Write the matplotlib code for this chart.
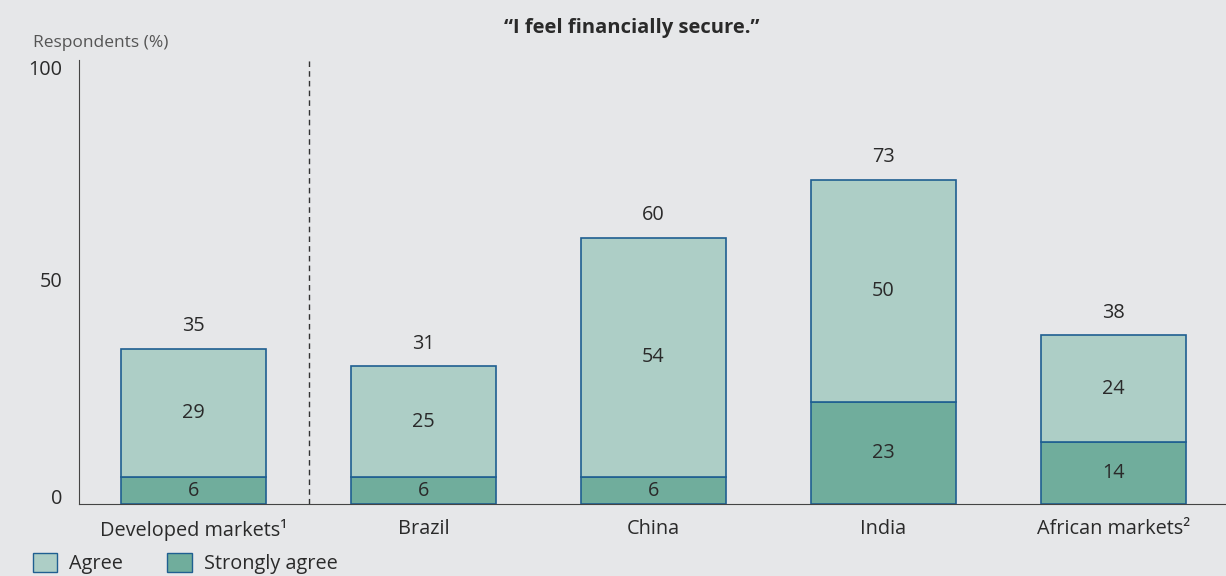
import matplotlib.pyplot as plt
from matplotlib.patches import Patch

plt.rcParams['font.family'] = ['Open Sans', 'DejaVu Sans']

categories = ['Developed markets¹', 'Brazil', 'China', 'India', 'African markets²']
strongly_agree = [6, 6, 6, 23, 14]
agree = [29, 25, 54, 50, 24]
totals = [35, 31, 60, 73, 38]
yticks = [0, 50, 100]

bg = '#e6e7e9'
c_agree = '#adcec6'
c_strong = '#70ad9c'
c_edge = '#1f5f91'
c_text = '#2a2a2a'
fs = 14.3

fig = plt.figure(figsize=(12.26, 5.76), dpi=100, facecolor=bg)
ax = fig.add_axes([0.0644, 0.125, 0.9356, 0.771])
ax.set_facecolor(bg)

x = range(len(categories))
w = 0.627
ax.bar(x, strongly_agree, width=w, color=c_strong, edgecolor=c_edge, linewidth=1.2)
ax.bar(x, agree, width=w, bottom=strongly_agree, color=c_agree, edgecolor=c_edge, linewidth=1.2)

for i in x:
    ax.text(i, strongly_agree[i] / 2, str(strongly_agree[i]), ha='center', va='center',
            fontsize=fs, color=c_text)
    ax.text(i, strongly_agree[i] + agree[i] / 2, str(agree[i]), ha='center', va='center',
            fontsize=fs, color=c_text)
    ax.text(i, totals[i] + 2.8, str(totals[i]), ha='center', va='bottom',
            fontsize=fs, color=c_text)

ax.axvline(0.5, color='#333333', linestyle=(0, (4, 3)), linewidth=1)

ax.set_xlim(-0.498, 4.489)
ax.set_ylim(0, 100)
ax.set_xticks(list(x))
ax.set_xticklabels(categories, fontsize=fs, color=c_text)
ax.set_yticks(yticks)
ax.set_yticklabels([str(v) for v in yticks], fontsize=fs, color=c_text)
for lab, va in zip(ax.get_yticklabels(), ['baseline', 'center', 'top']):
    lab.set_va(va)
ax.tick_params(length=0, pad=12)
ax.tick_params(axis='x', pad=11)
for s in ['top', 'right']:
    ax.spines[s].set_visible(False)
ax.spines['left'].set_color('#444444')
ax.spines['bottom'].set_color('#444444')

fig.text(0.027, 0.925, 'Respondents (%)', fontsize=12.5, color='#555555', va='center')
fig.text(0.515, 0.951, '“I feel financially secure.”', fontsize=14.5, fontweight='bold',
         color=c_text, ha='center', va='center')

handles = [Patch(facecolor=c_agree, edgecolor=c_edge, label='Agree'),
           Patch(facecolor=c_strong, edgecolor=c_edge, label='Strongly agree')]
fig.legend(handles=handles, loc='lower left', bbox_to_anchor=(0.012, -0.028), ncol=2,
           frameon=False, fontsize=fs, handlelength=1.25, handleheight=1.1,
           columnspacing=2.2, handletextpad=0.6, labelcolor=c_text)

fig.savefig('out.png', dpi=100, facecolor=bg)
